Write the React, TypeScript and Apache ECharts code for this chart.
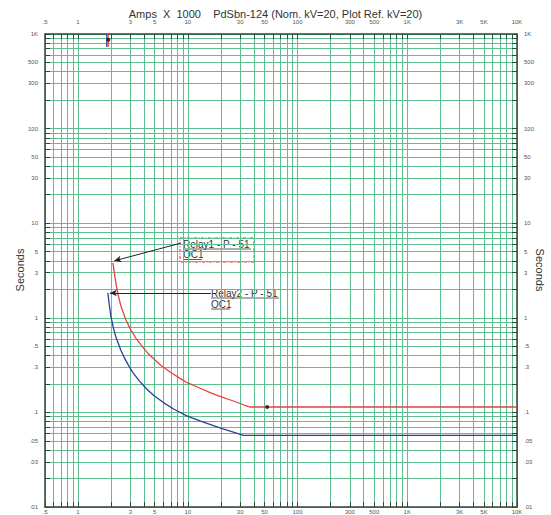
import React, { useEffect, useRef } from "react";
import * as echarts from "echarts";

// ---- tick / label values ----
const xLabelValues = [0.5, 1, 3, 5, 10, 30, 50, 100, 300, 500, 1000, 3000, 5000, 10000];
const xLabelTexts = [".5", "1", "3", "5", "10", "30", "50", "100", "300", "500", "1K", "3K", "5K", "10K"];
const yLabelValues = [0.01, 0.03, 0.05, 0.1, 0.3, 0.5, 1, 3, 5, 10, 30, 50, 100, 300, 500, 1000];
const yLabelTexts = [".01", ".03", ".05", ".1", ".3", ".5", "1", "3", "5", "10", "30", "50", "100", "300", "500", "1K"];
const gridMultipliers = [1, 2, 3, 4, 5, 6, 7, 8, 9];
const xDecades = [-1, 0, 1, 2, 3, 4];
const yDecades = [-2, -1, 0, 1, 2, 3];

// ---- series values (Amps x 1000, Seconds) ----
const relay1Amps = [2.08, 2.18, 2.29, 2.45, 2.72, 3.02, 3.35, 3.73, 4.3, 5.0, 5.67, 7.0, 8.5, 9.9, 13.1, 16.0, 19.9, 26.0, 33.0, 37.3, 10000];
const relay1Secs = [3.8, 2.6, 1.85, 1.35, 0.96, 0.75, 0.615, 0.52, 0.425, 0.36, 0.315, 0.264, 0.229, 0.206, 0.179, 0.162, 0.147, 0.132, 0.119, 0.114, 0.114];
const relay2Amps = [1.87, 1.93, 1.99, 2.1, 2.21, 2.45, 2.61, 2.9, 3.15, 3.6, 4.2, 4.9, 6.0, 7.5, 9.9, 13.1, 19.9, 26.0, 32.2, 10000];
const relay2Secs = [1.83, 1.355, 1.047, 0.782, 0.63, 0.457, 0.389, 0.31, 0.265, 0.217, 0.178, 0.151, 0.127, 0.108, 0.0914, 0.0807, 0.0682, 0.0619, 0.0573, 0.0573];
const relay1MarkAmps = [1.88, 1.88];
const relay1MarkSecs = [1000, 730];
const relay2MarkAmps = [1.83, 1.83];
const relay2MarkSecs = [1000, 730];
const topDot = [1.89, 870];
const relay1Dot = [52.9, 0.114];
// annotation arrows: [start, end] in data units
const arrow1 = [[8.6, 6.15], [2.14, 4.0]];
const arrow2 = [[16.2, 1.83], [1.95, 1.83]];

function decadeValues(exps: number[], min: number, max: number) {
  const out: number[] = [];
  exps.forEach((e) =>
    gridMultipliers.forEach((m) => {
      const v = parseFloat((m * Math.pow(10, e)).toPrecision(6));
      if (v >= min && v <= max) out.push(v);
    })
  );
  return out;
}

const xGrid = decadeValues(xDecades, 0.5, 10000);
const yGrid = decadeValues(yDecades, 0.01, 1000);

function lookup(values: number[], texts: string[]) {
  return (v: number) => {
    for (let i = 0; i < values.length; i++) {
      if (Math.abs(values[i] - v) / values[i] < 1e-6) return texts[i];
    }
    return "";
  };
}

const GREEN = "#5dbe8e";
const FRAME = "#2f4a3c";
const LABEL = "#555";
const FONT = "Liberation Sans, Arial, sans-serif";

export default function App() {
  const ref = useRef<HTMLDivElement>(null);
  useEffect(() => {
    if (!ref.current) return;
    const chart = echarts.init(ref.current, undefined, { renderer: "svg" });
    const fx = lookup(xLabelValues, xLabelTexts);
    const fy = lookup(yLabelValues, yLabelTexts);

    const xAxisBase = (pos: "bottom" | "top", main: boolean) => ({
      type: "log",
      logBase: 10,
      min: 0.5,
      max: 10000,
      position: pos,
      axisLine: { show: true, onZero: false, lineStyle: { color: FRAME, width: 1.5 } },
      axisTick: { show: true, inside: true, length: 5, customValues: xGrid, lineStyle: { color: FRAME, width: 1 } },
      axisLabel: {
        show: true,
        customValues: xLabelValues,
        formatter: (v: number) => fx(v),
        fontSize: 6,
        color: LABEL,
        fontFamily: FONT,
        margin: pos === "top" ? 9 : 2,
        hideOverlap: false,
      },
      splitLine: { show: main, lineStyle: { color: GREEN, width: 1 } },
      minorTick: { show: false },
      minorSplitLine: { show: false },
    });
    const yAxisBase = (pos: "left" | "right", main: boolean) => ({
      type: "log",
      logBase: 10,
      min: 0.01,
      max: 1000,
      position: pos,
      axisLine: { show: true, onZero: false, lineStyle: { color: FRAME, width: 1.5 } },
      axisTick: { show: true, inside: true, length: 5, customValues: yGrid, lineStyle: { color: FRAME, width: 1 } },
      axisLabel: {
        show: true,
        customValues: yLabelValues,
        formatter: (v: number) => fy(v),
        fontSize: 6,
        color: LABEL,
        fontFamily: FONT,
        margin: 7,
        hideOverlap: false,
      },
      splitLine: { show: main, lineStyle: { color: GREEN, width: 1 } },
      minorTick: { show: false },
      minorSplitLine: { show: false },
    });

    const zip = (a: number[], b: number[]) => a.map((v, i) => [v, b[i]]);
    const arrowStyle = { color: "#222", width: 1, type: "solid" as const };

    chart.setOption({
      animation: false,
      backgroundColor: "#ffffff",
      title: {
        text: "Amps  X  1000    PdSbn-124 (Nom. kV=20, Plot Ref. kV=20)",
        left: "center",
        top: 3,
        textStyle: { fontSize: 11, fontWeight: "normal", color: "#333", fontFamily: FONT },
      },
      grid: { left: 45, right: 34, top: 34, bottom: 8, containLabel: false },
      xAxis: [xAxisBase("bottom", true), xAxisBase("top", false)],
      yAxis: [yAxisBase("left", true), yAxisBase("right", false)],
      graphic: [
        { type: "text", x: 20, y: 270, rotation: Math.PI / 2, style: { text: "Seconds", fontSize: 11, fill: "#333", fontFamily: FONT, align: "center", verticalAlign: "middle" } },
        { type: "text", x: 540, y: 270, rotation: -Math.PI / 2, style: { text: "Seconds", fontSize: 11, fill: "#333", fontFamily: FONT, align: "center", verticalAlign: "middle" } },
        { type: "rect", shape: { x: 180, y: 238, width: 74, height: 24 }, style: { fill: "none", stroke: "#d9302c", lineWidth: 1, lineDash: [3, 1.5, 1, 1.5] } },
        { type: "text", x: 183, y: 244, style: { text: "Relay1 - P - 51", fontSize: 10, fill: "#333", fontFamily: FONT, verticalAlign: "middle" } },
        { type: "line", shape: { x1: 183, y1: 249, x2: 251, y2: 249 }, style: { stroke: "#333", lineWidth: 0.8 } },
        { type: "text", x: 183, y: 254.5, style: { text: "OC1", fontSize: 10, fill: "#333", fontFamily: FONT, verticalAlign: "middle" } },
        { type: "line", shape: { x1: 183, y1: 259.5, x2: 202, y2: 259.5 }, style: { stroke: "#333", lineWidth: 0.8 } },
        { type: "text", x: 211, y: 293, style: { text: "Relay2 - P - 51", fontSize: 10, fill: "#333", fontFamily: FONT, verticalAlign: "middle" } },
        { type: "line", shape: { x1: 211, y1: 298, x2: 279, y2: 298 }, style: { stroke: "#333", lineWidth: 0.8 } },
        { type: "text", x: 211, y: 304, style: { text: "OC1", fontSize: 10, fill: "#333", fontFamily: FONT, verticalAlign: "middle" } },
        { type: "line", shape: { x1: 211, y1: 309, x2: 230, y2: 309 }, style: { stroke: "#333", lineWidth: 0.8 } },
      ],
      series: [
        {
          type: "line",
          name: "Relay1",
          data: zip(relay1Amps, relay1Secs),
          showSymbol: false,
          symbol: "none",
          lineStyle: { color: "#e8423e", width: 1.3 },
          markLine: {
            silent: true,
            symbol: ["none", "arrow"],
            symbolSize: [5, 7],
            label: { show: false },
            lineStyle: arrowStyle,
            data: [[{ coord: arrow1[0] }, { coord: arrow1[1] }]],
          },
          z: 3,
        },
        {
          type: "line",
          name: "Relay2",
          data: zip(relay2Amps, relay2Secs),
          showSymbol: false,
          symbol: "none",
          lineStyle: { color: "#2c3f96", width: 1.3 },
          markLine: {
            silent: true,
            symbol: ["none", "arrow"],
            symbolSize: [5, 7],
            label: { show: false },
            lineStyle: arrowStyle,
            data: [[{ coord: arrow2[0] }, { coord: arrow2[1] }]],
          },
          z: 3,
        },
        {
          type: "line",
          data: zip(relay2MarkAmps, relay2MarkSecs),
          symbol: "none",
          lineStyle: { color: "#2c3f96", width: 1.3 },
        },
        {
          type: "line",
          data: zip(relay1MarkAmps, relay1MarkSecs),
          symbol: "none",
          lineStyle: { color: "#e8423e", width: 1.3 },
        },
        {
          type: "scatter",
          data: [topDot, relay1Dot],
          symbolSize: 4,
          itemStyle: { color: "#111" },
          z: 5,
        },
      ],
    });
    return () => chart.dispose();
  }, []);
  return (
    <div
      ref={ref}
      style={{ position: "absolute", left: 0, top: 0, width: 551, height: 515, background: "#fff" }}
    />
  );
}
